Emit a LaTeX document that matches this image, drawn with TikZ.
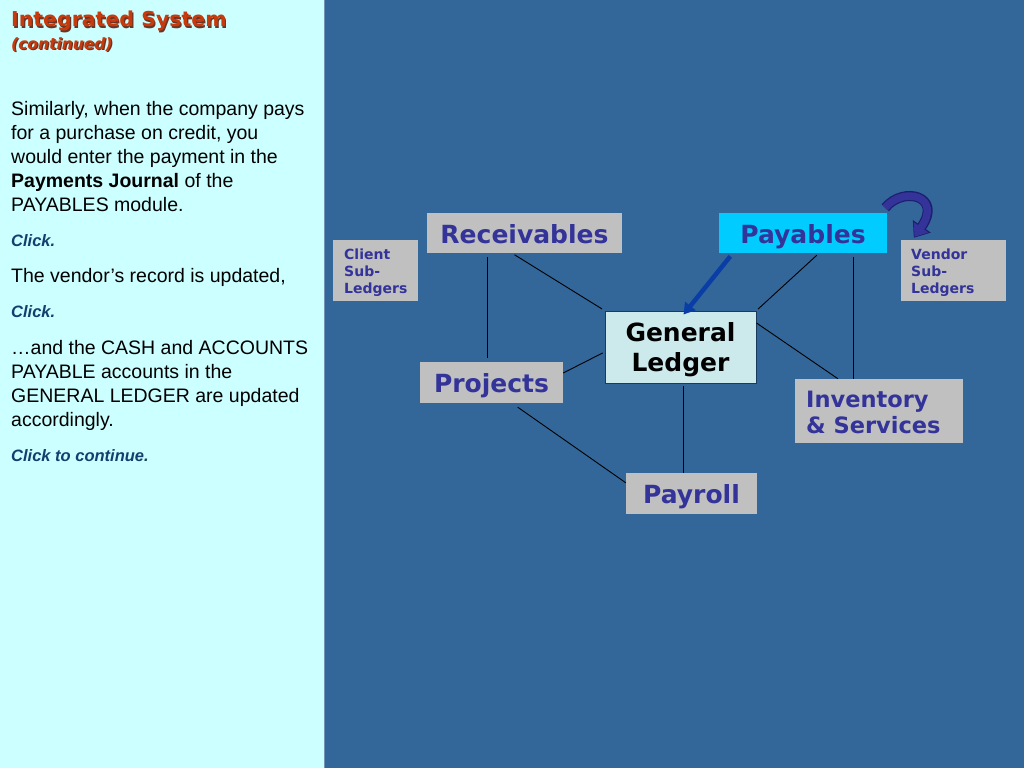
\documentclass[tikz,border=0pt]{standalone}
\usepackage{fontspec}
\setmainfont{Liberation Sans}
\newfontfamily\verd{DejaVu Sans}
\usetikzlibrary{arrows.meta,calc}
\definecolor{panel}{HTML}{CCFFFF}
\definecolor{bgblue}{HTML}{336699}
\definecolor{boxgray}{HTML}{C0C0C0}
\definecolor{boxtext}{HTML}{333399}
\definecolor{paycyan}{HTML}{00CCFF}
\definecolor{glfill}{HTML}{CCE9EC}
\definecolor{glborder}{HTML}{1C3A5A}
\definecolor{titlered}{HTML}{C63A0E}
\definecolor{titleshadow}{HTML}{6A3524}
\definecolor{clickblue}{HTML}{123F6E}
\definecolor{arrowblue}{HTML}{0A3EA6}
\definecolor{curvblue}{HTML}{333399}
\definecolor{curvedge}{HTML}{1E1E70}
\tikzset{
  modbox/.style={fill=boxgray, minimum height=40pt, inner sep=0pt, text=boxtext,
    text height=20pt, text depth=0pt,
    font=\verd\bfseries\fontsize{25}{30}\selectfont},
  plainbox/.style={fill=boxgray, inner sep=0pt},
  subline/.style={anchor=base west, inner sep=0pt, text=boxtext,
    font=\verd\bfseries\fontsize{14}{17.5}\selectfont},
  invline/.style={anchor=base west, inner sep=0pt, text=boxtext,
    font=\verd\bfseries\fontsize{22.5}{27}\selectfont},
  glline/.style={anchor=base, inner sep=0pt, text=black,
    font=\verd\bfseries\fontsize{25}{30}\selectfont},
  link/.style={draw=black, line width=0.9pt},
  body/.style={anchor=base west, inner sep=0pt, font=\fontsize{19.5}{24}\selectfont},
  clk/.style={anchor=base west, inner sep=0pt, text=clickblue,
    font=\fontsize{16.5}{20}\selectfont\bfseries\itshape},
}
\begin{document}
\begin{tikzpicture}[x=1pt,y=-1pt]
\useasboundingbox (0,0) rectangle (1024,768);
\fill[bgblue] (0,0) rectangle (1024,768);
\fill[panel] (0,0) rectangle (324,768);
\draw[color=bgblue!70!white, line width=1pt] (324.5,0) -- (324.5,768);

% title
\node[anchor=base west, inner sep=0pt, text=titleshadow, font=\verd\bfseries\fontsize{20.5}{24}\selectfont] (tsh) at (12.2,28.2) {Integrated System};
\node[anchor=base west, inner sep=0pt, text=titlered, font=\verd\bfseries\fontsize{20.5}{24}\selectfont] (title) at (11,27) {Integrated System};
\node[anchor=base west, inner sep=0pt, text=titleshadow, font=\verd\bfseries\itshape\fontsize{15.5}{18}\selectfont] (csh) at (12.2,50.2) {(continued)};
\node[anchor=base west, inner sep=0pt, text=titlered, font=\verd\bfseries\itshape\fontsize{15.5}{18}\selectfont] (cont) at (11,49) {(continued)};

% body text
\node[body] (l1) at (11,115) {Similarly, when the company pays};
\node[body] (l2) at (11,139) {for a purchase on credit, you};
\node[body] (l3) at (11,163) {would enter the payment in the};
\node[body] (l4) at (11,187) {\textbf{Payments Journal} of the};
\node[body] (l5) at (11,211) {PAYABLES module.};
\node[clk] (c1) at (11,246) {Click.};
\node[body] (l6) at (11,282) {The vendor’s record is updated,};
\node[clk] (c2) at (11,317) {Click.};
\node[body] (l7) at (11,354) {…and the CASH and ACCOUNTS};
\node[body] (l8) at (11,378) {PAYABLE accounts in the};
\node[body] (l9) at (11,402) {GENERAL LEDGER are updated};
\node[body] (l10) at (11,426) {accordingly.};
\node[clk] (c3) at (11,461) {Click to continue.};

% nodes
\node[modbox, minimum width=195pt] (rec) at (524.5,233) {Receivables};
\node[modbox, fill=paycyan, minimum width=168pt] (pay) at (803,233) {Payables};
\node[modbox, minimum width=143pt, minimum height=41pt] (proj) at (491.5,382.5) {Projects};
\node[modbox, minimum width=131pt, minimum height=41pt] (payroll) at (691.5,493.5) {Payroll};
\node[fill=glfill, draw=glborder, line width=1pt, minimum width=151pt, minimum height=72pt, inner sep=0pt] (gl) at (680.5,347) {};
\node[glline] (gl1) at (680.5,341.7) {General};
\node[glline] (gl2) at (680.5,371.7) {Ledger};
\node[plainbox, minimum width=168pt, minimum height=64pt] (inv) at (879,411) {};
\node[invline] (inv1) at (806,407.3) {Inventory};
\node[invline] (inv2) at (806,433.3) {\& Services};
\node[plainbox, minimum width=85pt, minimum height=61pt] (client) at (375.5,270.5) {};
\node[subline] (cl1) at (344,259.3) {Client};
\node[subline] (cl2) at (344,276.6) {Sub-};
\node[subline] (cl3) at (344,293.5) {Ledgers};
\node[plainbox, minimum width=105pt, minimum height=61pt] (vendor) at (953.5,270.5) {};
\node[subline] (vd1) at (911,259.3) {Vendor};
\node[subline] (vd2) at (911,276.6) {Sub-};
\node[subline] (vd3) at (911,293.5) {Ledgers};

% connectors
\draw[link, shorten <=4pt, shorten >=4pt] ([xshift=-37.5pt]rec.south) -- ([xshift=-4.5pt]proj.north);
\draw[link, shorten <=3pt, shorten >=3pt] ([xshift=-12.5pt]rec.south) -- (gl.north west);
\draw[link, shorten >=2pt] ([yshift=9.5pt]proj.east) -- ([yshift=-5pt]gl.west);
\draw[link, shorten <=7pt] ([xshift=20.5pt]proj.south) -- ([yshift=-10pt]payroll.north west);
\draw[link, shorten <=2pt] ([xshift=2.5pt]gl.south) -- ([xshift=-8.5pt]payroll.north);
\draw[link, shorten <=3pt, shorten >=2pt] ([xshift=16pt]pay.south) -- (gl.north east);
\draw[link, shorten <=4pt] ([xshift=50pt]pay.south) -- ([xshift=-26pt]inv.north);
\draw[link] ([yshift=24pt]gl.east) -- ([xshift=-41pt]inv.north);

% blue arrow
\draw[arrowblue, line width=4.5pt, shorten <=4pt, -{Triangle[length=11pt,width=13pt]}]
  ([xshift=14pt]pay.south west) -- ([xshift=3pt,yshift=-4pt]gl.north);

% curved arrow
\coordinate (ctail) at ([xshift=-2pt,yshift=5pt]pay.north east);
\coordinate (chead) at ([xshift=13pt,yshift=2pt]vendor.north west);
\draw[curvedge, line width=10pt, -{Triangle[length=14pt,width=21pt]}]
  (ctail) .. controls ($(ctail)+(18,-22)$) and ($(ctail)+(58,-12)$) .. (chead);
\draw[curvblue, line width=7.5pt, shorten >=1.2pt, -{Triangle[length=11.5pt,width=17pt]}]
  (ctail) .. controls ($(ctail)+(18,-22)$) and ($(ctail)+(58,-12)$) .. (chead);
\end{tikzpicture}
\end{document}
